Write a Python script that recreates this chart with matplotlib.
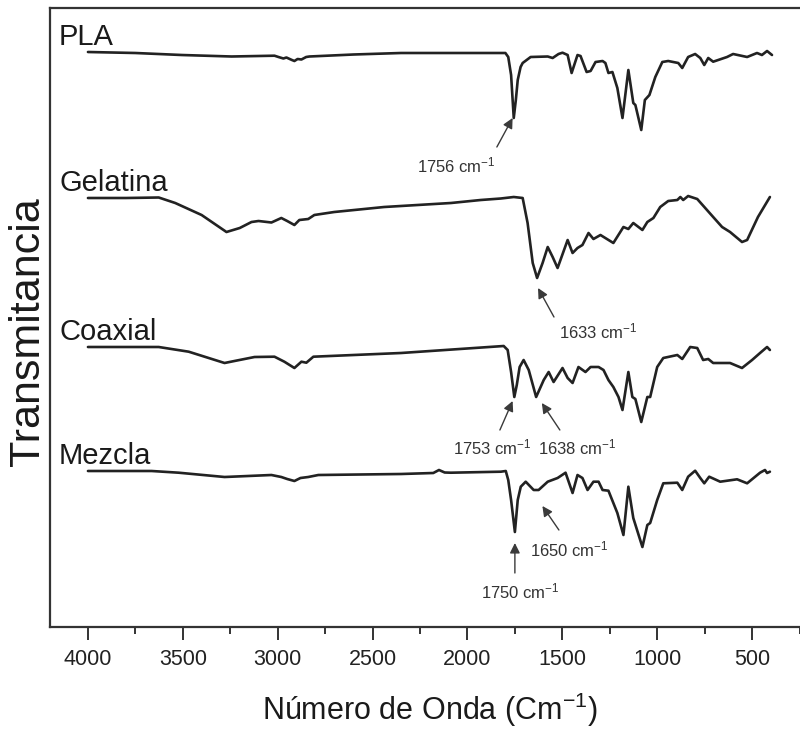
import numpy as np
import matplotlib
matplotlib.use("Agg")
import matplotlib.pyplot as plt
from matplotlib.ticker import MultipleLocator

plt.rcParams['font.family'] = ['Liberation Sans', 'DejaVu Sans']
plt.rcParams['mathtext.fontset'] = 'custom'
plt.rcParams['mathtext.rm'] = 'Liberation Sans'
plt.rcParams['mathtext.it'] = 'Liberation Sans:italic'
plt.rcParams['mathtext.bf'] = 'Liberation Sans:bold'

# FTIR spectra, transmittance in arbitrary units relative to the 4000 cm-1 level
pla_wn = [4000, 3750, 3506, 3243, 3017, 2996, 2970, 2954, 2925, 2912, 2895, 2875, 2850, 2833,
          2600, 2350, 2000, 1800, 1785, 1770, 1756, 1745, 1735, 1720, 1709, 1667, 1577, 1551,
          1520, 1499, 1472, 1451, 1420, 1404, 1372, 1351, 1325, 1288, 1273, 1257, 1236, 1210,
          1183, 1152, 1126, 1115, 1084, 1065, 1041, 1010, 973, 942, 889, 868, 837, 800, 773,
          752, 731, 705, 632, 600, 526, 474, 448, 421, 395]
pla_t = [0, -1, -3, -4.5, -3.7, -5, -6.5, -5.5, -8, -9, -7, -7.5, -5, -4.5,
         -2.5, -1, -1, -1, -5, -23, -66, -48, -28, -15, -11, -5, -4.5, -6,
         -2, -0.7, -3, -21, -3, -4, -20, -19, -10, -9, -11, -21, -20, -36,
         -66, -18, -51, -53, -78, -48, -43, -25, -10, -9, -11, -16, -5, -2, -6,
         -13, -6, -9.7, -5, -2, -5, -1, -3, 1, -3]

gel_wn = [4000, 3800, 3627, 3540, 3401, 3270, 3200, 3138, 3101, 3033, 2981, 2950, 2912, 2886,
          2839, 2807, 2702, 2439, 2087, 1930, 1824, 1756, 1709, 1683, 1656, 1633, 1604, 1577,
          1551, 1525, 1472, 1446, 1420, 1394, 1362, 1336, 1299, 1231, 1178, 1152, 1126, 1078,
          1052, 1020, 984, 942, 894, 878, 863, 837, 789, 705, 658, 616, 553, 526, 469, 406]
gel_t = [0, 0, 0.5, -5, -17, -34, -30, -24, -23, -24.5, -20, -23, -27, -22,
         -21, -17, -14, -9, -5, -2, -0.5, 1, 0, -25, -65, -80, -65, -49,
         -59, -70, -42, -55, -50, -47, -35, -41, -37, -45, -29, -31, -25, -32,
         -24, -20, -9, -3, -2, 1, -2, 2, -1, -19, -29, -34, -44, -42, -19, 1]

coax_wn = [4000, 3627, 3469, 3280, 3228, 3122, 3017, 2965, 2912, 2875, 2849, 2812, 2350, 1809,
           1788, 1770, 1753, 1740, 1725, 1704, 1677, 1638, 1598, 1572, 1546, 1499, 1472, 1446,
           1415, 1378, 1351, 1309, 1283, 1257, 1231, 1204, 1183, 1152, 1131, 1115, 1084, 1052,
           1037, 1000, 968, 894, 868, 826, 789, 758, 731, 705, 616, 553, 500, 458, 421, 406]
coax_t = [0, 0, -4.7, -16, -14, -10, -9.7, -14.7, -21, -14.7, -15.7, -9.7, -6, 1,
          -3, -25, -50, -38, -20, -13, -23, -50, -33, -25, -35, -21, -31, -36,
          -20, -25, -20, -20, -23, -33, -40, -50, -63, -25, -50, -52, -75, -50,
          -50, -20, -11, -8, -12, 0, -1, -13, -12, -16, -16, -21, -13, -6, 0, -3]

mez_wn = [4000, 3664, 3522, 3280, 3033, 2981, 2950, 2912, 2880, 2839, 2786, 2350, 2180, 2150,
          2120, 2087, 1824, 1798, 1785, 1770, 1750, 1735, 1719, 1693, 1651, 1625, 1577, 1525,
          1483, 1446, 1420, 1394, 1367, 1336, 1309, 1288, 1257, 1210, 1178, 1152, 1126, 1078,
          1052, 1037, 1000, 968, 894, 868, 837, 800, 773, 752, 726, 668, 579, 526, 458, 432,
          421, 406]
mez_t = [0, 0, -1.7, -6, -4, -6, -8, -10, -7, -6, -4, -3, -2, 1,
         -1.5, -1.7, -0.7, 0, -9, -29, -61, -29, -15.7, -10.7, -19, -19, -10.7, -7,
         -1.7, -22, -4, -7, -19, -10.7, -10.7, -19, -19.7, -42, -64, -15.7, -47, -76,
         -54, -52, -29, -12.3, -11.7, -19, -5.7, 0.3, -7, -12.3, -5.7, -10.7, -8.3, -12.3, -1.7, 1,
         -2, -0.7]

names = ['PLA', 'Gelatina', 'Coaxial', 'Mezcla']
offsets = [648, 502, 353, 229]
spectra = [(pla_wn, pla_t), (gel_wn, gel_t), (coax_wn, coax_t), (mez_wn, mez_t)]

# marked bands: (label, arrow tip, arrow tail, text centre) in (cm-1, a.u.)
bands = [
    ('1756', (1762, 582), (1845, 553), (2061, 535)),
    ('1633', (1628, 412), (1544, 383), (1312, 369)),
    ('1753', (1762, 299), (1829, 270), (1871, 253)),
    ('1638', (1608, 297), (1513, 270), (1423, 253)),
    ('1650', (1605, 194), (1518, 170), (1465, 151)),
    ('1750', (1750, 157), (1750, 127), (1723, 109)),
]

fig = plt.figure(figsize=(8, 7.32), dpi=100)
ax = fig.add_axes([0.0625, 0.14344, 0.94875, 0.84563])

for name, (wn, t), off in zip(names, spectra, offsets):
    ax.plot(wn, np.array(t) + off, color='#222222', lw=1.9,
            solid_joinstyle='round', solid_capstyle='round')
    ax.text(4152, off + 7, name, fontsize=21, color='#1a1a1a', va='baseline', ha='left')

for lab, tip, tail, pos in bands:
    ax.annotate('', xy=tip, xytext=tail,
                arrowprops=dict(arrowstyle='-|>', color='#3a3a3a', lw=1.0,
                                mutation_scale=15, shrinkA=0, shrinkB=0))
    ax.text(pos[0], pos[1], lab + r' cm$^{-1}$', fontsize=12, color='#333333',
            ha='center', va='center')

ax.set_xlim(4200, 200)
ax.set_ylim(73, 692)
ax.xaxis.set_major_locator(MultipleLocator(500))
ax.xaxis.set_minor_locator(MultipleLocator(250))
ax.set_xticks([4000, 3500, 3000, 2500, 2000, 1500, 1000, 500])
ax.tick_params(axis='x', which='major', direction='out', length=9, width=1.4,
               labelsize=15.5, pad=7, colors='#333333', labelcolor='#222222')
ax.tick_params(axis='x', which='minor', direction='out', length=5, width=1.4, colors='#333333')
ax.set_yticks([])
for side in ['left', 'top', 'bottom', 'right']:
    ax.spines[side].set_linewidth(1.6)
    ax.spines[side].set_color('#333333')

fig.text(430 / 800, 1 - 710 / 732, r'Número de Onda (Cm$^{-1}$)', fontsize=22,
         ha='center', va='center', color='#1a1a1a')
fig.text(28 / 800, 1 - 332 / 732, 'Transmitancia', fontsize=31, rotation=90,
         ha='center', va='center', color='#1a1a1a')

fig.savefig('out.png', dpi=100)
